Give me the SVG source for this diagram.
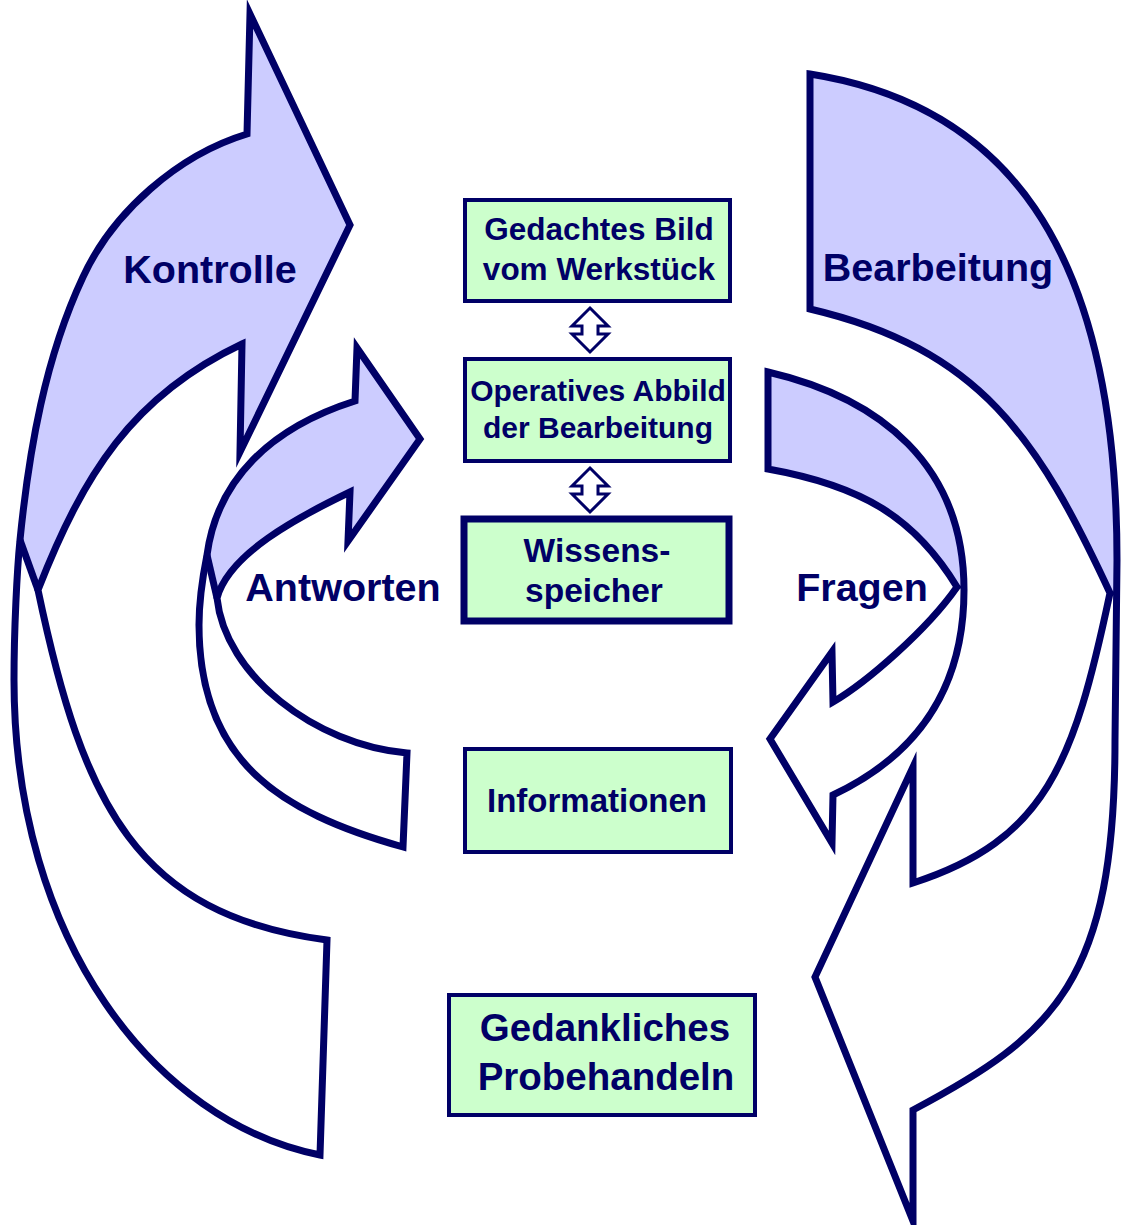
<svg xmlns="http://www.w3.org/2000/svg" xmlns:xlink="http://www.w3.org/1999/xlink" width="1121" height="1225" viewBox="0 0 1121 1225">
<style>
  .bg { fill: #ffffff; stroke: none; }
  .hl { fill: #ccccff; stroke: none; }
  .ol { fill: none; stroke: #000066; stroke-width: 7; stroke-linejoin: miter; stroke-miterlimit: 10; }
  .box { fill: #ccffcc; stroke: #000066; stroke-width: 4; }
  .box.thick { stroke-width: 7; }
  .dbl { fill: #ffffff; stroke: #000066; stroke-width: 3; stroke-linejoin: miter; }
  text { font-family: "Liberation Sans", Arial, sans-serif; font-weight: bold; fill: #000066; text-anchor: middle; }
  .lbl { font-size: 39.5px; }
</style>
<defs>
  <path id="kontrolle-shape" d="M 247,134 C 178,155 113,212 83,277 C 45,358 29,450 20,540 C 17,570 14,630 14,680 C 14,941 155,1122 320,1155 L 327,940 C 137,915 83,805 38,590 C 83,475 132,396 242,344 L 240,452 L 350,225 L 250,14 Z"/>
  <path id="bearbeitung-shape" d="M 810,74 C 1000,104 1117,240 1117,560 L 1115,740 C 1115,980 1055,1035 913,1110 L 913,1221 L 815,977 L 913,767 L 913,883 C 1046,840 1074,763 1110,593 C 1038,438 980,349 810,309 Z"/>
  <path id="antworten-shape" d="M 355,401 C 270,428 217,480 207,555 C 202,580 199,600 199,625 C 199,760 278,812 403,847 L 407,753 C 315,745 225,675 217,598 C 229,554 296,518 350,492 L 348,541 L 420,439 L 357,348 Z"/>
  <path id="fragen-shape" d="M 768,372 C 880,398 964,465 964,590 C 964,700 905,761 833,795 L 832,843 L 770,739 L 832,652 L 833,702 C 867,682 927,630 957,587 C 915,518 863,486 768,469 Z"/>
</defs>

<g id="connectors">
  <g id="arrow-kontrolle">
    <use xlink:href="#kontrolle-shape" class="bg"/>
    <path class="hl" d="M 247,134 C 178,155 113,212 83,277 C 45,358 29,450 20,540 L 38,590 C 83,475 132,396 242,344 L 240,452 L 350,225 L 250,14 Z"/>
    <use xlink:href="#kontrolle-shape" class="ol"/>
    <path class="ol" d="M 20,540 L 38,590"/>
    <text class="lbl" x="210" y="283">Kontrolle</text>
  </g>
  <g id="arrow-bearbeitung">
    <use xlink:href="#bearbeitung-shape" class="bg"/>
    <path class="hl" d="M 810,74 C 1000,104 1117,240 1117,560 L 1117,590 L 1110,593 C 1038,438 980,349 810,309 Z"/>
    <use xlink:href="#bearbeitung-shape" class="ol"/>
    <text class="lbl" x="938" y="281">Bearbeitung</text>
  </g>
  <g id="arrow-antworten">
    <use xlink:href="#antworten-shape" class="bg"/>
    <path class="hl" d="M 355,401 C 270,428 217,480 207,555 L 217,598 C 229,554 296,518 350,492 L 348,541 L 420,439 L 357,348 Z"/>
    <use xlink:href="#antworten-shape" class="ol"/>
    <path class="ol" d="M 207,555 L 217,598"/>
    <text class="lbl" x="343" y="601">Antworten</text>
  </g>
  <g id="arrow-fragen">
    <use xlink:href="#fragen-shape" class="bg"/>
    <path class="hl" d="M 768,372 C 880,398 964,465 964,590 L 957,587 C 915,518 863,486 768,469 Z"/>
    <use xlink:href="#fragen-shape" class="ol"/>
    <text class="lbl" x="862" y="601">Fragen</text>
  </g>
  <g id="link-bild-abbild">
    <path class="dbl" d="M 590,308 L 608,326 L 598,326 L 598,334 L 608,334 L 590,352 L 572,334 L 582,334 L 582,326 L 572,326 Z"/>
  </g>
  <g id="link-abbild-speicher">
    <path class="dbl" d="M 590,468 L 608,486 L 598,486 L 598,494 L 608,494 L 590,512 L 572,494 L 582,494 L 582,486 L 572,486 Z"/>
  </g>
</g>

<g id="node-gedachtes-bild">
  <rect class="box" x="465" y="200" width="265" height="101"/>
  <text x="599" y="240" font-size="31.5">Gedachtes Bild</text>
  <text x="599" y="280" font-size="31.5">vom Werkstück</text>
</g>
<g id="node-operatives-abbild">
  <rect class="box" x="465" y="359" width="265" height="102"/>
  <text x="598" y="401" font-size="30">Operatives Abbild</text>
  <text x="598" y="438" font-size="30">der Bearbeitung</text>
</g>
<g id="node-wissensspeicher">
  <rect class="box thick" x="464" y="519" width="265" height="102"/>
  <text x="597" y="562" font-size="33.5">Wissens-</text>
  <text x="594" y="602" font-size="33.5">speicher</text>
</g>
<g id="node-informationen">
  <rect class="box" x="465" y="749" width="266" height="103"/>
  <text x="597" y="812" font-size="33">Informationen</text>
</g>
<g id="node-probehandeln">
  <rect class="box" x="449" y="995" width="306" height="120"/>
  <text x="605" y="1041" font-size="38.5">Gedankliches</text>
  <text x="606" y="1090" font-size="38.5">Probehandeln</text>
</g>
</svg>
